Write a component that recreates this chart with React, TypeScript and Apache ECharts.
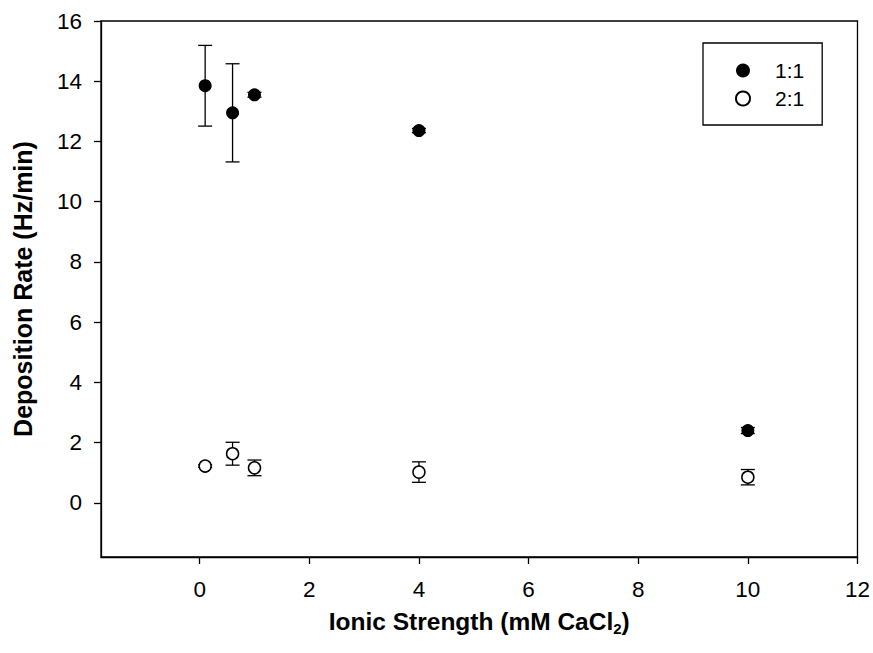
import React, { useEffect, useRef } from "react";
import * as echarts from "echarts";

const ionicStrength = [0.1, 0.6, 1, 4, 10];
const rate11 = [13.85, 12.95, 13.55, 12.36, 2.4];
const err11 = [1.34, 1.63, 0.08, 0.07, 0.1];
const rate21 = [1.22, 1.63, 1.16, 1.02, 0.85];
const err21 = [0.04, 0.38, 0.26, 0.34, 0.255];
const seriesNames = ["1:1", "2:1"];
const xTicks = [0, 2, 4, 6, 8, 10, 12];
const yTicks = [0, 2, 4, 6, 8, 10, 12, 14, 16];

const FONT = "'Liberation Sans', Arial, Helvetica, sans-serif";

function errorSeries(vals: number[], errs: number[]) {
  return {
    type: "custom",
    silent: true,
    z: 1,
    data: ionicStrength.map((x, i) => [x, vals[i], errs[i]]),
    renderItem: (params: any, api: any) => {
      const x = api.value(0);
      const y = api.value(1);
      const e = api.value(2);
      const top = api.coord([x, y + e]);
      const bot = api.coord([x, y - e]);
      const w = 7;
      const st = { stroke: "#000", lineWidth: 1.3 };
      return {
        type: "group",
        children: [
          { type: "line", shape: { x1: top[0], y1: top[1], x2: bot[0], y2: bot[1] }, style: st },
          { type: "line", shape: { x1: top[0] - w, y1: top[1], x2: top[0] + w, y2: top[1] }, style: st },
          { type: "line", shape: { x1: bot[0] - w, y1: bot[1], x2: bot[0] + w, y2: bot[1] }, style: st },
        ],
      };
    },
  };
}

export default function App() {
  const ref = useRef<HTMLDivElement>(null);
  useEffect(() => {
    if (!ref.current) return;
    const chart = echarts.init(ref.current, null, { renderer: "svg" });
    chart.setOption({
      animation: false,
      backgroundColor: "#fff",
      textStyle: { fontFamily: FONT, color: "#000" },
      grid: {
        left: 101,
        top: 21,
        right: 15,
        bottom: 96,
        show: true,
        borderColor: "#000",
        borderWidth: 1.3,
        backgroundColor: "transparent",
      },
      legend: {
        orient: "vertical",
        left: 703,
        top: 43,
        data: seriesNames,
        backgroundColor: "#fff",
        borderColor: "#000",
        borderWidth: 1.3,
        borderRadius: 0,
        padding: [17, 18, 16, 32],
        itemGap: 7,
        itemWidth: 14,
        itemHeight: 14,
        icon: "circle",
        textStyle: {
          fontFamily: FONT,
          fontSize: 21,
          color: "#000",
          lineHeight: 21,
          padding: [0, 0, 0, 20],
        },
      },
      xAxis: {
        type: "value",
        min: -1.8,
        max: 12,
        name: "{b|Ionic Strength (mM CaCl}{s|2}{b|)}",
        nameLocation: "middle",
        nameGap: 49,
        nameTextStyle: {
          rich: {
            b: { fontFamily: FONT, fontSize: 24.5, fontWeight: "bold", color: "#000", lineHeight: 30 },
            s: { fontFamily: FONT, fontSize: 15, fontWeight: "bold", color: "#000", lineHeight: 30, padding: [14, 0, 0, 0] },
          },
        },
        axisLine: { show: true, onZero: false, lineStyle: { color: "#000", width: 1.3 } },
        axisTick: { show: true, inside: false, length: 7, customValues: xTicks, lineStyle: { color: "#000", width: 1.3 } },
        axisLabel: { customValues: xTicks, fontFamily: FONT, fontSize: 22.5, color: "#000", margin: 21 },
        splitLine: { show: false },
      },
      yAxis: {
        type: "value",
        min: -1.8,
        max: 16,
        name: "Deposition Rate (Hz/min)",
        nameLocation: "middle",
        nameGap: 66,
        nameTextStyle: { fontFamily: FONT, fontSize: 25, fontWeight: "bold", color: "#000" },
        axisLine: { show: true, onZero: false, lineStyle: { color: "#000", width: 1.3 } },
        axisTick: { show: true, inside: false, length: 7, customValues: yTicks, lineStyle: { color: "#000", width: 1.3 } },
        axisLabel: { customValues: yTicks, fontFamily: FONT, fontSize: 22.5, color: "#000", margin: 19 },
        splitLine: { show: false },
      },
      series: [
        errorSeries(rate11, err11),
        errorSeries(rate21, err21),
        {
          name: seriesNames[0],
          type: "scatter",
          z: 3,
          symbol: "circle",
          symbolSize: 13,
          itemStyle: { color: "#000", borderColor: "#000", borderWidth: 0, opacity: 1 },
          data: ionicStrength.map((x, i) => [x, rate11[i]]),
        },
        {
          name: seriesNames[1],
          type: "scatter",
          z: 3,
          symbol: "circle",
          symbolSize: 12,
          itemStyle: { color: "#fff", borderColor: "#000", borderWidth: 1.5, opacity: 1 },
          data: ionicStrength.map((x, i) => [x, rate21[i]]),
        },
      ],
    });
    return () => chart.dispose();
  }, []);
  return (
    <div
      ref={ref}
      style={{ position: "fixed", left: 0, top: 0, width: 873, height: 653, background: "#fff" }}
    />
  );
}
